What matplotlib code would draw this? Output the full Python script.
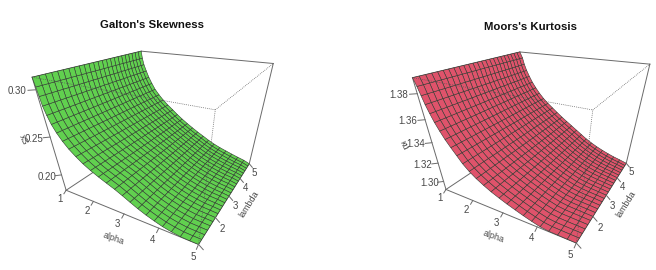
import numpy as np
import matplotlib
matplotlib.use('Agg')
import matplotlib.pyplot as plt
from mpl_toolkits.mplot3d import proj3d

lam = [1 + i / 6 for i in range(25)]
ticks_xy = [1, 2, 3, 4, 5]

# alpha and height of each mesh row, read along the lambda=1 and lambda=5 edges
galton_alpha_l1 = [1.00, 1.02, 1.04, 1.06, 1.11, 1.18, 1.28, 1.41, 1.56, 1.74, 1.93, 2.14, 2.36,
                   2.58, 2.81, 3.02, 3.23, 3.44, 3.66, 3.88, 4.10, 4.33, 4.56, 4.79, 5.00]
galton_alpha_l5 = [1.00, 1.03, 1.08, 1.16, 1.25, 1.36, 1.48, 1.63, 1.79, 1.97, 2.16, 2.34, 2.53,
                   2.73, 2.93, 3.13, 3.34, 3.54, 3.75, 3.96, 4.18, 4.39, 4.60, 4.81, 5.00]
galton_l1 = [.3115, .3027, .2938, .2845, .2753, .2662, .2576, .2494, .2418, .2348, .2283, .2226,
             .2175, .2129, .2083, .2033, .1980, .1929, .1883, .1844, .1810, .1786, .1769, .1765, .1764]
galton_l5 = [.3115, .3026, .2942, .2860, .2776, .2695, .2616, .2544, .2476, .2412, .2352, .2292,
             .2235, .2180, .2129, .2080, .2033, .1987, .1945, .1910, .1879, .1850, .1823, .1798, .1764]
moors_alpha_l1 = [1.00, 1.06, 1.11, 1.16, 1.23, 1.31, 1.41, 1.52, 1.65, 1.79, 1.93, 2.10, 2.29,
                  2.50, 2.71, 2.94, 3.16, 3.39, 3.62, 3.85, 4.08, 4.31, 4.54, 4.78, 5.00]
moors_alpha_l5 = [1.00, 1.09, 1.15, 1.23, 1.33, 1.44, 1.57, 1.71, 1.87, 2.04, 2.22, 2.40, 2.59,
                  2.78, 2.97, 3.16, 3.35, 3.54, 3.74, 3.94, 4.15, 4.36, 4.56, 4.77, 5.00]
moors_l1 = [1.3911, 1.3854, 1.3791, 1.3728, 1.3663, 1.3598, 1.3534, 1.3471, 1.3410, 1.3349, 1.3287,
            1.3231, 1.3181, 1.3136, 1.3096, 1.3060, 1.3028, 1.2998, 1.2969, 1.2943, 1.2920, 1.2910,
            1.2908, 1.2906, 1.2905]
moors_l5 = [1.3911, 1.3856, 1.3795, 1.3735, 1.3677, 1.3619, 1.3564, 1.3511, 1.3459, 1.3413, 1.3370,
            1.3327, 1.3284, 1.3243, 1.3204, 1.3164, 1.3124, 1.3085, 1.3050, 1.3019, 1.2991, 1.2966,
            1.2945, 1.2927, 1.2905]
galton_ticks = [0.20, 0.25, 0.30]
moors_ticks = [1.30, 1.32, 1.34, 1.36, 1.38]

W, H = 656, 270
GREY = '#6a6a6a'
TXT = '#484848'
plt.rcParams['font.family'] = ['Liberation Sans', 'DejaVu Sans']
fig = plt.figure(figsize=(W / 100, H / 100), dpi=100)


def panel(cx, cy, a1, a5, z1, z5, zticks, colour, title, title_xy, zlabel, zlabel_xy):
    x0 = cx[1] + cx[0] * -0.095
    x1 = cx[1] + cx[0] * 0.09
    y0 = cy[1] + cy[0] * -0.095
    y1 = cy[1] + cy[0] * 0.09
    ax = fig.add_axes([x0 / W, 1 - y0 / H, (x1 - x0) / W, (y0 - y1) / H],
                      projection='3d')
    ax.apply_aspect = lambda position=None: None
    ax.set_axis_off()
    ax.patch.set_visible(False)
    ax.computed_zorder = False
    ax.view_init(30, -60)
    ax.set_proj_type('persp', focal_length=0.204)
    ax.set_box_aspect((1, 1, 1))
    zmin, zmax = min(z1), max(z1)
    ax.set_xlim(1, 5, view_margin=0)
    ax.set_ylim(1, 5, view_margin=0)
    ax.set_zlim(zmin, zmax, view_margin=0)
    M = ax.get_proj()

    def label(x, y, z, s, **kw):
        X, Y, _ = proj3d.proj_transform(x, y, z, M)
        ax.text2D(X, Y, s, transform=ax.transData, ha='center', va='center', color=TXT, **kw)

    def line(xs, ys, zs, zo=1, ls='-', lw=0.7, c=GREY):
        ax.plot(xs, ys, zs, color=c, lw=lw, ls=ls, zorder=zo, clip_on=False)

    # box edges behind the surface
    line([1, 5], [1, 1], [zmin, zmin])
    line([5, 5], [1, 5], [zmin, zmin])
    line([1, 1], [1, 5], [zmin, zmin])
    line([1, 1], [1, 1], [zmin, zmax])
    line([5, 5], [5, 5], [zmin, zmax])
    line([1, 5], [5, 5], [zmax, zmax])
    line([1, 1], [1, 5], [zmax, zmax])

    w = (np.array(lam)[:, None] - 1) / 4
    A = np.array(a1) * (1 - w) + np.array(a5) * w
    Z = np.array(z1) * (1 - w) + np.array(z5) * w
    L = np.tile(np.array(lam)[:, None], (1, len(a1)))
    s = ax.plot_surface(A, L, Z, rstride=1, cstride=1, color=colour, shade=False,
                        edgecolor='#303830', linewidth=0.4, antialiased=True, zorder=2)
    s.set_clip_on(False)

    # box edges in front of the surface
    for xs, ys, zs in (([1, 5], [1, 1], [zmax, zmax]), ([5, 5], [1, 5], [zmax, zmax]),
                       ([5, 5], [1, 1], [zmin, zmax])):
        line(xs, ys, zs, zo=3, ls=(0, (1, 1.5)), lw=0.55, c='#555555')

    dz = zmax - zmin
    for t in ticks_xy:
        line([t, t], [1, 0.9], [zmin, zmin - 0.02 * dz], zo=3)
        label(t, 0.73, zmin - 0.0455 * dz, str(t), fontsize=7)
        line([5, 5.12], [t, t], [zmin, zmin - 0.035 * dz], zo=3)
        if t > 1:
            label(5.22, t, zmin - 0.095 * dz, str(t), fontsize=7)
    for t in zticks:
        line([1, 0.89], [1, 0.89], [t, t], zo=3)
        label(0.74, 0.74, t, '%.2f' % t, fontsize=7)
    label(3.2, 0.33, zmin - 0.05 * dz, 'alpha', fontsize=6.5, rotation=-20)
    label(5.55, 3.1, zmin - 0.05 * dz, 'lambda', fontsize=6.5, rotation=58)
    fig.text(zlabel_xy[0] / W, 1 - zlabel_xy[1] / H, zlabel, fontsize=6.5, color=TXT,
             rotation=-65, ha='center', va='center')
    fig.text(title_xy[0] / W, 1 - title_xy[1] / H, title, fontsize=8.2, fontweight='bold',
             color='#111111', ha='center', va='center')


panel([1374.7, 164.6], [-1095.5, 130.0], galton_alpha_l1, galton_alpha_l5, galton_l1, galton_l5,
      galton_ticks, '#61D04F', "Galton's Skewness", (152, 25.5), 'xS', (23, 140))
panel([1353.2, 542.9], [-1083.0, 129.9], moors_alpha_l1, moors_alpha_l5, moors_l1, moors_l5,
      moors_ticks, '#DF536B', "Moors's Kurtosis", (531, 26.5), 'κu', (404, 145))
fig.savefig('out.png', dpi=100)
